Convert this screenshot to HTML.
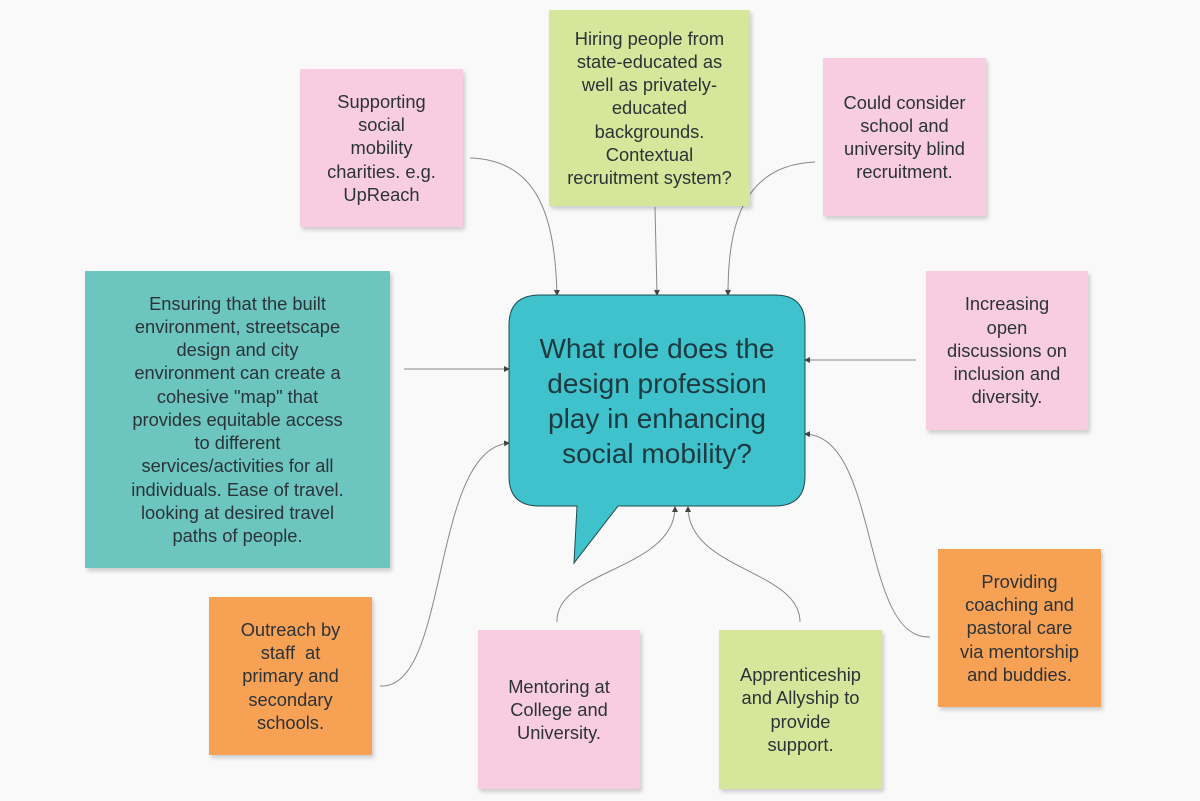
<!DOCTYPE html>
<html><head><meta charset="utf-8"><style>
body{margin:0;width:1200px;height:801px;background:#f9f9f9;position:relative;overflow:hidden;font-family:"Liberation Sans","DejaVu Sans",sans-serif;}
.n{position:absolute;display:flex;align-items:center;justify-content:center;text-align:center;color:#2b3338;font-size:18.3px;line-height:23.2px;box-shadow:2px 3px 4px rgba(0,0,0,0.18);}
.p{background:#f8cde2}.g{background:#d6e69a}.o{background:#f7a155}.t{background:#6cc5be}
svg{position:absolute;left:0;top:0}
.q{position:absolute;left:505px;top:295px;width:304px;height:211px;display:flex;align-items:center;justify-content:center;text-align:center;font-size:28px;line-height:35px;color:#1d3a40;}
</style></head><body>
<svg width="1200" height="801">
<defs><marker id="a" markerWidth="6" markerHeight="6" refX="5" refY="3" orient="auto"><path d="M0,0 L6,3 L0,6z" fill="#444"/></marker></defs>
<g fill="none" stroke="#888" stroke-width="1" marker-end="url(#a)">
<path d="M470,158 C540,160 555,220 557,295"/>
<path d="M655,207 L657,295"/>
<path d="M815,162 C740,165 728,230 728,295"/>
<path d="M404,369 L509,369"/>
<path d="M916,360 L805,360"/>
<path d="M380,686 C450,690 430,450 509,443"/>
<path d="M557,622 C555,570 675,570 675,507"/>
<path d="M800,622 C800,570 688,570 688,507"/>
<path d="M930,637 C860,640 880,436 805,434"/>
</g>
<path d="M540,295 H775 Q805,295 805,325 V476 Q805,506 775,506 H618 L574,563 L577,506 H539 Q509,506 509,476 V325 Q509,295 540,295Z" fill="#40c2cc" stroke="#1f4a50" stroke-width="1"/>
</svg>
<div class="q">What role does the<br>design profession<br>play in enhancing<br>social mobility?</div>
<div class="n p" style="left:300px;top:69px;width:163px;height:158px">Supporting<br>social<br>mobility<br>charities. e.g.<br>UpReach</div>
<div class="n g" style="left:549px;top:10px;width:201px;height:196px">Hiring people from<br>state-educated as<br>well as privately-<br>educated<br>backgrounds.<br>Contextual<br>recruitment system?</div>
<div class="n p" style="left:823px;top:58px;width:163px;height:158px">Could consider<br>school and<br>university blind<br>recruitment.</div>
<div class="n t" style="left:85px;top:271px;width:305px;height:297px">Ensuring that the built<br>environment, streetscape<br>design and city<br>environment can create a<br>cohesive "map" that<br>provides equitable access<br>to different<br>services/activities for all<br>individuals. Ease of travel.<br>looking at desired travel<br>paths of people.</div>
<div class="n p" style="left:926px;top:271px;width:162px;height:159px">Increasing<br>open<br>discussions on<br>inclusion and<br>diversity.</div>
<div class="n o" style="left:938px;top:549px;width:163px;height:158px">Providing<br>coaching and<br>pastoral care<br>via mentorship<br>and buddies.</div>
<div class="n g" style="left:719px;top:630px;width:163px;height:159px">Apprenticeship<br>and Allyship to<br>provide<br>support.</div>
<div class="n p" style="left:478px;top:630px;width:162px;height:159px">Mentoring at<br>College and<br>University.</div>
<div class="n o" style="left:209px;top:597px;width:163px;height:158px">Outreach by<br>staff &nbsp;at<br>primary and<br>secondary<br>schools.</div>
</body></html>
